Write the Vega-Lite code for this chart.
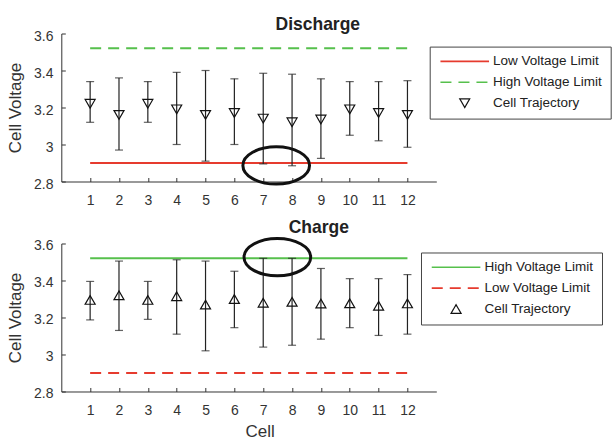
{
  "$schema": "https://vega.github.io/schema/vega-lite/v6.json",
  "background": "white",
  "padding": {"left": 6.3, "top": 15.5, "right": 2, "bottom": 2},
  "spacing": 10,
  "config": {
    "font": "Liberation Sans",
    "view": {"stroke": null},
    "title": {"fontSize": 17.5, "fontWeight": "bold", "color": "#222222", "anchor": "middle", "offset": -4},
    "axis": {"grid": false, "domainColor": "#333333", "tickColor": "#333333", "labelColor": "#333333", "titleColor": "#333333", "labelFontSize": 14, "titleFontSize": 17, "titleFontWeight": "normal", "tickSize": -4, "domainWidth": 1, "tickWidth": 1, "labelOverlap": false, "labelBound": false, "labelFlush": false, "tickCount": 20},
    "legend": {"orient": "none", "title": null, "strokeColor": "#444444", "fillColor": "white", "padding": 8, "rowPadding": 5.9, "labelFontSize": 13.5, "labelColor": "#222222", "symbolSize": 100, "symbolOffset": 20.3, "labelOffset": 21.6}
  },
  "datasets": {
    "discharge": [
      {"cell": 1, "v": 3.22, "lo": 3.12, "hi": 3.34},
      {"cell": 2, "v": 3.16, "lo": 2.97, "hi": 3.36},
      {"cell": 3, "v": 3.22, "lo": 3.12, "hi": 3.34},
      {"cell": 4, "v": 3.19, "lo": 3.0, "hi": 3.39},
      {"cell": 5, "v": 3.16, "lo": 2.91, "hi": 3.4},
      {"cell": 6, "v": 3.17, "lo": 3.0, "hi": 3.355},
      {"cell": 7, "v": 3.14, "lo": 2.895, "hi": 3.385},
      {"cell": 8, "v": 3.12, "lo": 2.885, "hi": 3.38},
      {"cell": 9, "v": 3.135, "lo": 2.925, "hi": 3.355},
      {"cell": 10, "v": 3.19, "lo": 3.05, "hi": 3.34},
      {"cell": 11, "v": 3.17, "lo": 3.02, "hi": 3.34},
      {"cell": 12, "v": 3.16, "lo": 2.985, "hi": 3.345}
    ],
    "charge": [
      {"cell": 1, "v": 3.295, "lo": 3.187, "hi": 3.395},
      {"cell": 2, "v": 3.32, "lo": 3.13, "hi": 3.505},
      {"cell": 3, "v": 3.295, "lo": 3.19, "hi": 3.395},
      {"cell": 4, "v": 3.315, "lo": 3.11, "hi": 3.512},
      {"cell": 5, "v": 3.27, "lo": 3.02, "hi": 3.505},
      {"cell": 6, "v": 3.3, "lo": 3.145, "hi": 3.45},
      {"cell": 7, "v": 3.28, "lo": 3.04, "hi": 3.52},
      {"cell": 8, "v": 3.285, "lo": 3.05, "hi": 3.52},
      {"cell": 9, "v": 3.275, "lo": 3.083, "hi": 3.465},
      {"cell": 10, "v": 3.277, "lo": 3.145, "hi": 3.41},
      {"cell": 11, "v": 3.263, "lo": 3.103, "hi": 3.41},
      {"cell": 12, "v": 3.276, "lo": 3.11, "hi": 3.432}
    ],
    "limits_d": [
      {"series": "Low Voltage Limit", "v": 2.9, "from": 1, "to": 12},
      {"series": "High Voltage Limit", "v": 3.52, "from": 1, "to": 12}
    ],
    "limits_c": [
      {"series": "High Voltage Limit", "v": 3.52, "from": 1, "to": 12},
      {"series": "Low Voltage Limit", "v": 2.9, "from": 1, "to": 12}
    ],
    "mark_d": [{"cell": 7.45, "v": 2.887}],
    "mark_c": [{"cell": 7.49, "v": 3.526}]
  },
  "resolve": {"scale": {"color": "independent", "strokeDash": "independent"}, "legend": {"color": "independent"}},
  "vconcat": [
    {
      "width": 375,
      "height": 148,
      "title": {"text": "Discharge", "dx": 69},
      "layer": [
        {
          "data": {"name": "limits_d"},
          "mark": {"type": "rule", "strokeWidth": 2},
          "encoding": {
            "x": {"field": "from", "type": "quantitative", "scale": {"domain": [0, 13], "nice": false, "zero": false}, "axis": {"title": null, "values": [1,2,3,4,5,6,7,8,9,10,11,12], "format": "d", "tickCount": 20, "labelPadding": 16.4, "labelOverlap": false}},
            "x2": {"field": "to"},
            "y": {"field": "v", "type": "quantitative", "scale": {"domain": [2.8, 3.6], "nice": false, "zero": false}, "axis": {"title": "Cell Voltage", "values": [2.8, 3, 3.2, 3.4, 3.6], "tickCount": 20, "labelExpr": "toString(datum.value)", "labelPadding": 12.3, "labelOffset": 2.5, "titlePadding": 9, "labelOverlap": false}},
            "color": {"field": "series", "type": "nominal", "scale": {"domain": ["Low Voltage Limit", "High Voltage Limit", "Cell Trajectory"], "range": ["#e63b2e", "#56c04c", "#111111"]},
              "legend": {"legendX": 368.4, "legendY": 13.1,
                "encode": {"symbols": {"update": {
                  "shape": {"signal": "datum.value === 'Cell Trajectory' ? 'triangle-down' : 'M-4.86,0L4.86,0'"},
                  "strokeDash": {"signal": "datum.value === 'High Voltage Limit' ? [11,7] : [1,0]"},
                  "stroke": {"signal": "datum.value === 'Low Voltage Limit' ? '#e63b2e' : (datum.value === 'High Voltage Limit' ? '#56c04c' : '#111111')"},
                  "fill": {"value": "transparent"},
                  "strokeWidth": {"signal": "datum.value === 'Cell Trajectory' ? 1.2 : 1.6"},
                  "size": {"value": 100},
                  "opacity": {"value": 1}
                }}}}},
            "strokeDash": {"field": "series", "type": "nominal", "scale": {"domain": ["Low Voltage Limit", "High Voltage Limit"], "range": [[1, 0], [11, 7]]}, "legend": null}
          }
        },
        {
          "data": {"name": "discharge"},
          "mark": {"type": "rule", "color": "#222222", "strokeWidth": 1.2},
          "encoding": {"x": {"field": "cell", "type": "quantitative"}, "y": {"field": "lo", "type": "quantitative"}, "y2": {"field": "hi"}}
        },
        {
          "data": {"name": "discharge"},
          "mark": {"type": "tick", "orient": "horizontal", "size": 8, "thickness": 1.2, "color": "#222222"},
          "encoding": {"x": {"field": "cell", "type": "quantitative"}, "y": {"field": "lo", "type": "quantitative"}}
        },
        {
          "data": {"name": "discharge"},
          "mark": {"type": "tick", "orient": "horizontal", "size": 8, "thickness": 1.2, "color": "#222222"},
          "encoding": {"x": {"field": "cell", "type": "quantitative"}, "y": {"field": "hi", "type": "quantitative"}}
        },
        {
          "data": {"name": "discharge"},
          "mark": {"type": "point", "shape": "triangle-down", "filled": false, "size": 100, "strokeWidth": 1.2, "opacity": 1},
          "encoding": {"x": {"field": "cell", "type": "quantitative"}, "y": {"field": "v", "type": "quantitative"}, "color": {"datum": "Cell Trajectory"}}
        },
        {
          "data": {"name": "mark_d"},
          "mark": {"type": "point", "shape": "M-1,0C-1,-0.309,-0.552,-0.56,0,-0.56C0.552,-0.56,1,-0.309,1,0C1,0.309,0.552,0.56,0,0.56C-0.552,0.56,-1,0.309,-1,0Z", "filled": false, "size": 4444, "strokeWidth": 3, "color": "#111111", "opacity": 1},
          "encoding": {"x": {"field": "cell", "type": "quantitative"}, "y": {"field": "v", "type": "quantitative"}}
        }
      ]
    },
    {
      "width": 375,
      "height": 148,
      "title": {"text": "Charge", "dx": 70},
      "layer": [
        {
          "data": {"name": "limits_c"},
          "mark": {"type": "rule", "strokeWidth": 2},
          "encoding": {
            "x": {"field": "from", "type": "quantitative", "scale": {"domain": [0, 13], "nice": false, "zero": false}, "axis": {"title": "Cell", "values": [1,2,3,4,5,6,7,8,9,10,11,12], "format": "d", "tickCount": 20, "labelPadding": 16.4, "titleX": 198.4, "titlePadding": 6, "labelOverlap": false}},
            "x2": {"field": "to"},
            "y": {"field": "v", "type": "quantitative", "scale": {"domain": [2.8, 3.6], "nice": false, "zero": false}, "axis": {"title": "Cell Voltage", "values": [2.8, 3, 3.2, 3.4, 3.6], "tickCount": 20, "labelExpr": "toString(datum.value)", "labelPadding": 12.3, "labelOffset": 2.5, "titlePadding": 9, "labelOverlap": false}},
            "color": {"field": "series", "type": "nominal", "scale": {"domain": ["High Voltage Limit", "Low Voltage Limit", "Cell Trajectory"], "range": ["#56c04c", "#e63b2e", "#111111"]},
              "legend": {"legendX": 359.7, "legendY": 9,
                "encode": {"symbols": {"update": {
                  "shape": {"signal": "datum.value === 'Cell Trajectory' ? 'triangle-up' : 'M-4.86,0L4.86,0'"},
                  "strokeDash": {"signal": "datum.value === 'Low Voltage Limit' ? [11,7] : [1,0]"},
                  "stroke": {"signal": "datum.value === 'Low Voltage Limit' ? '#e63b2e' : (datum.value === 'High Voltage Limit' ? '#56c04c' : '#111111')"},
                  "fill": {"value": "transparent"},
                  "strokeWidth": {"signal": "datum.value === 'Cell Trajectory' ? 1.2 : 1.6"},
                  "size": {"value": 100},
                  "opacity": {"value": 1}
                }}}}},
            "strokeDash": {"field": "series", "type": "nominal", "scale": {"domain": ["High Voltage Limit", "Low Voltage Limit"], "range": [[1, 0], [11, 7]]}, "legend": null}
          }
        },
        {
          "data": {"name": "charge"},
          "mark": {"type": "rule", "color": "#222222", "strokeWidth": 1.2},
          "encoding": {"x": {"field": "cell", "type": "quantitative"}, "y": {"field": "lo", "type": "quantitative"}, "y2": {"field": "hi"}}
        },
        {
          "data": {"name": "charge"},
          "mark": {"type": "tick", "orient": "horizontal", "size": 8, "thickness": 1.2, "color": "#222222"},
          "encoding": {"x": {"field": "cell", "type": "quantitative"}, "y": {"field": "lo", "type": "quantitative"}}
        },
        {
          "data": {"name": "charge"},
          "mark": {"type": "tick", "orient": "horizontal", "size": 8, "thickness": 1.2, "color": "#222222"},
          "encoding": {"x": {"field": "cell", "type": "quantitative"}, "y": {"field": "hi", "type": "quantitative"}}
        },
        {
          "data": {"name": "charge"},
          "mark": {"type": "point", "shape": "triangle-up", "filled": false, "size": 100, "strokeWidth": 1.2, "opacity": 1},
          "encoding": {"x": {"field": "cell", "type": "quantitative"}, "y": {"field": "v", "type": "quantitative"}, "color": {"datum": "Cell Trajectory"}}
        },
        {
          "data": {"name": "mark_c"},
          "mark": {"type": "point", "shape": "M-1,0C-1,-0.309,-0.552,-0.56,0,-0.56C0.552,-0.56,1,-0.309,1,0C1,0.309,0.552,0.56,0,0.56C-0.552,0.56,-1,0.309,-1,0Z", "filled": false, "size": 4444, "strokeWidth": 3, "color": "#111111", "opacity": 1},
          "encoding": {"x": {"field": "cell", "type": "quantitative"}, "y": {"field": "v", "type": "quantitative"}}
        }
      ]
    }
  ]
}
